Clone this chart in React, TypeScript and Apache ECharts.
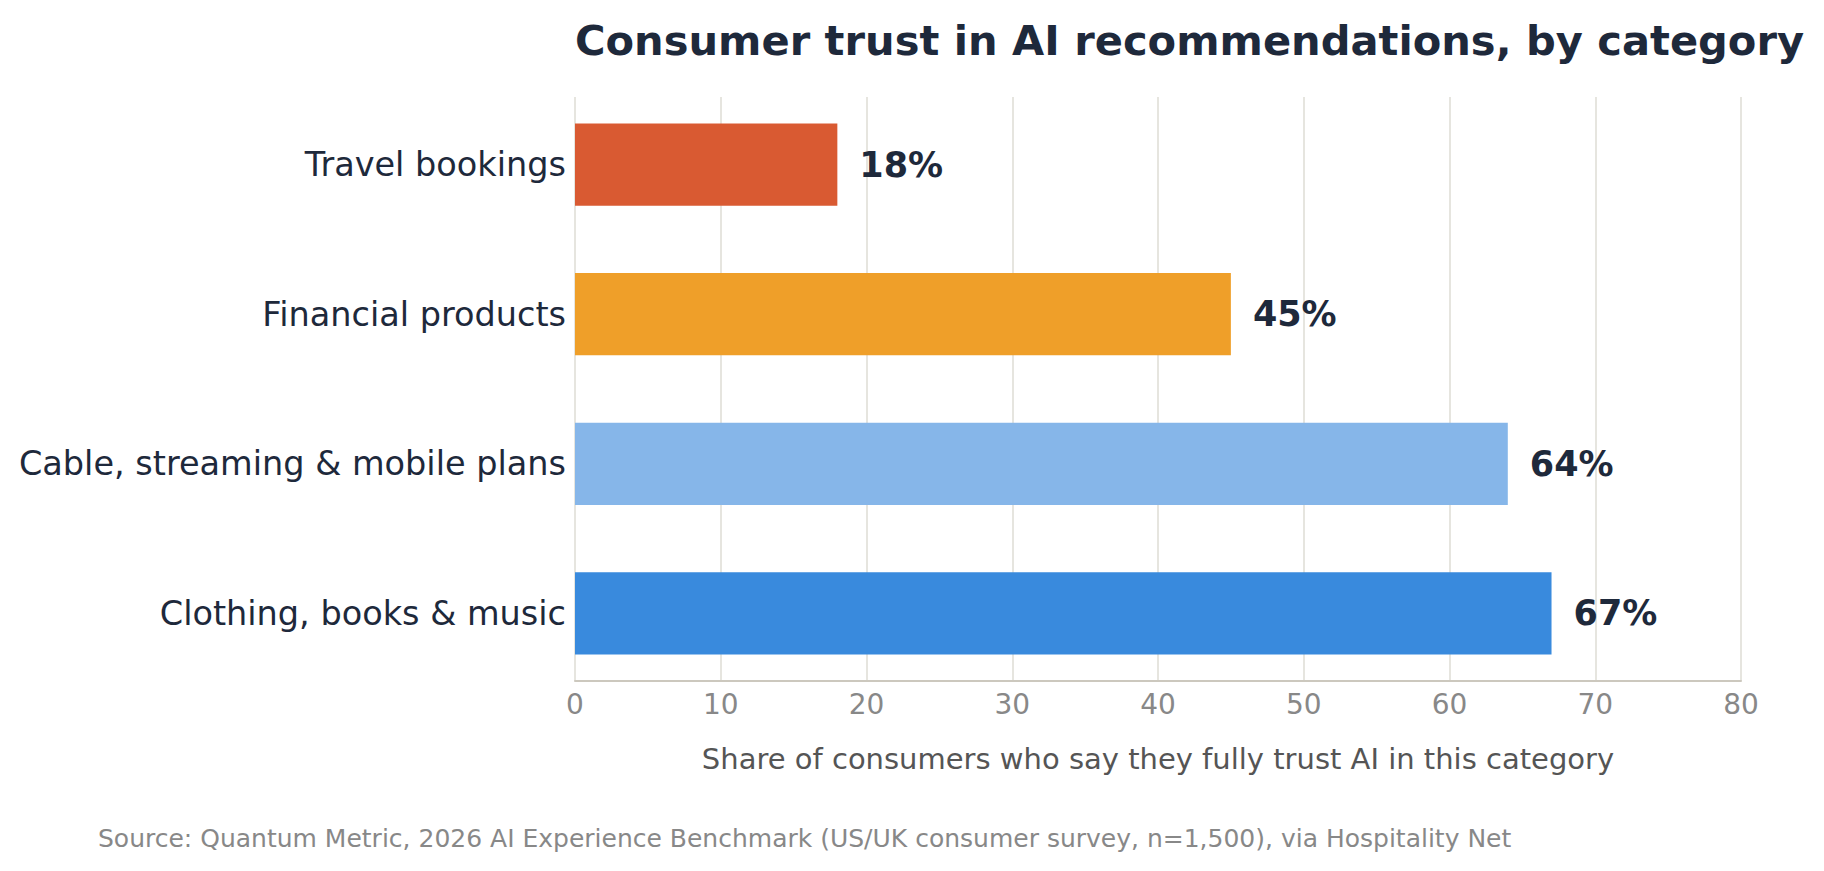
import React, { useEffect, useRef } from "react";
import * as echarts from "echarts";

const categories = [
  "Travel bookings",
  "Financial products",
  "Cable, streaming & mobile plans",
  "Clothing, books & music",
];
const values = [18, 45, 64, 67];
const barColors = ["#D95A32", "#EF9F29", "#86B6E9", "#398ADD"];
const xMin = 0;
const xMax = 80;
const xInterval = 10;
const titleText = "Consumer trust in AI recommendations, by category";
const axisNameText = "Share of consumers who say they fully trust AI in this category";
const sourceText =
  "Source: Quantum Metric, 2026 AI Experience Benchmark (US/UK consumer survey, n=1,500), via Hospitality Net";

const FONT = "DejaVu Sans";
const DARK = "#1e293b";

export default function App() {
  const ref = useRef<HTMLDivElement>(null);

  useEffect(() => {
    document.body.style.margin = "0";
    document.body.style.overflow = "hidden";
    if (!ref.current) return;
    const chart = echarts.init(ref.current, undefined, { renderer: "svg" });

    const plotLeft = 575;
    const plotWidth = 1166;
    const plotTop = 97;
    const plotHeight = 584;
    const band = plotHeight / 3.905;
    const extra = 0.0475 * band;

    chart.setOption({
      animation: false,
      backgroundColor: "#ffffff",
      textStyle: { fontFamily: FONT },
      title: {
        text: titleText,
        left: plotLeft,
        top: 19,
        padding: 0,
        textStyle: { fontFamily: FONT, fontSize: 41.6, fontWeight: "bold", color: DARK },
      },
      graphic: [
        {
          type: "text",
          left: 98,
          top: 826,
          style: { text: sourceText, font: `25px "${FONT}"`, fill: "#888888" },
        },
      ],
      grid: [
        { left: plotLeft, width: plotWidth, top: plotTop, height: plotHeight },
        { left: plotLeft, width: plotWidth, top: plotTop - extra, height: band * 4 },
      ],
      xAxis: [
        {
          gridIndex: 0,
          type: "value",
          min: xMin,
          max: xMax,
          interval: xInterval,
          axisLine: { show: true, lineStyle: { color: "#ccc8be", width: 2 } },
          axisTick: { show: false },
          axisLabel: { fontSize: 28, color: "#888888", margin: 9, fontFamily: FONT },
          splitLine: { show: true, lineStyle: { color: "#dedcd5", width: 1.5 } },
          name: axisNameText,
          nameLocation: "middle",
          nameGap: 63,
          nameTextStyle: { fontSize: 29, color: "#555555", fontFamily: FONT },
        },
        {
          gridIndex: 1,
          type: "value",
          min: xMin,
          max: xMax,
          show: false,
        },
      ],
      yAxis: [
        {
          gridIndex: 0,
          type: "value",
          min: 0,
          max: 1,
          show: false,
        },
        {
          gridIndex: 1,
          type: "category",
          data: categories,
          inverse: true,
          axisLine: { show: false },
          axisTick: { show: false },
          splitLine: { show: false },
          axisLabel: {
            fontSize: 33.5,
            color: DARK,
            margin: 9,
            fontFamily: FONT,
            padding: [5, 0, 0, 0],
          },
        },
      ],
      series: [
        {
          type: "bar",
          xAxisIndex: 1,
          yAxisIndex: 1,
          barWidth: "55%",
          data: values.map((v, i) => ({ value: v, itemStyle: { color: barColors[i] } })),
          label: {
            show: true,
            position: "right",
            distance: 22,
            formatter: (p: any) => `${p.value}%`,
            fontSize: 35,
            fontWeight: "bold",
            color: DARK,
            fontFamily: FONT,
          },
        },
      ],
    });

    return () => chart.dispose();
  }, []);

  return <div ref={ref} style={{ width: 1824, height: 871 }} />;
}
